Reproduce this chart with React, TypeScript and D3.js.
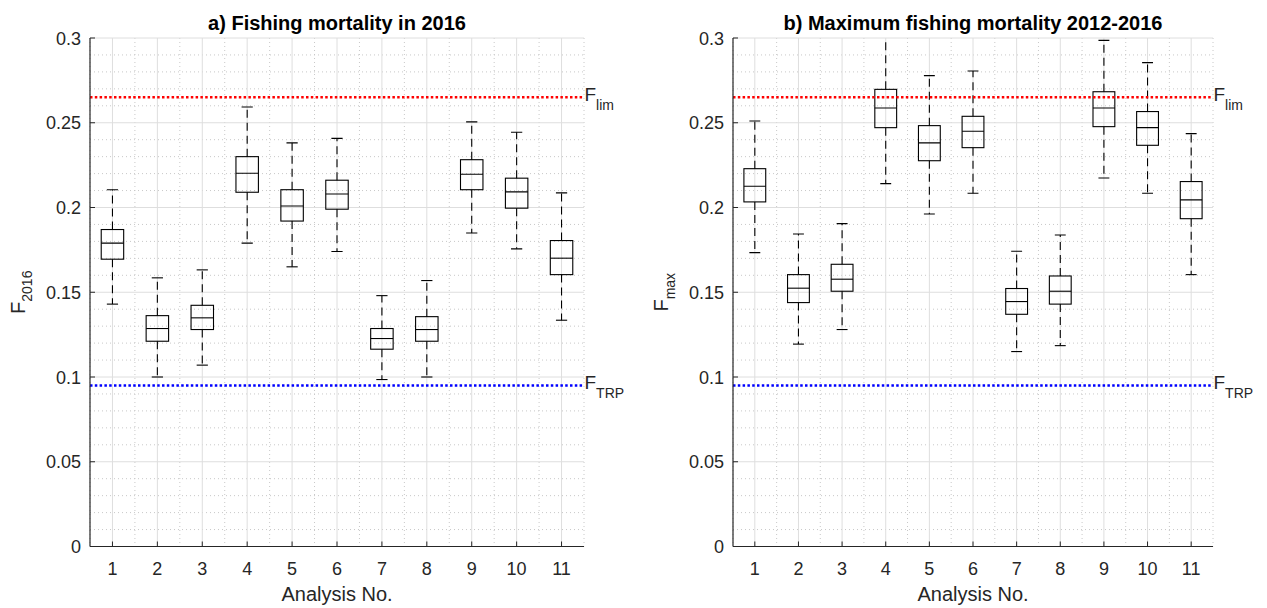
import React from "react";
import * as d3 from "d3";

const analyses = [1, 2, 3, 4, 5, 6, 7, 8, 9, 10, 11];
const xTickLabels = ["1", "2", "3", "4", "5", "6", "7", "8", "9", "10", "11"];
const yTicks = [0, 0.05, 0.1, 0.15, 0.2, 0.25, 0.3];
const yTickLabels = ["0", "0.05", "0.1", "0.15", "0.2", "0.25", "0.3"];

// Panel a) F2016
const aLow = [0.143, 0.1, 0.107, 0.179, 0.165, 0.174, 0.0985, 0.1, 0.185, 0.1756, 0.1335];
const aQ1 = [0.1695, 0.1211, 0.128, 0.209, 0.192, 0.199, 0.1164, 0.1211, 0.2105, 0.1996, 0.1604];
const aMed = [0.179, 0.1286, 0.1349, 0.2202, 0.2009, 0.208, 0.1227, 0.128, 0.2196, 0.2092, 0.1701];
const aQ3 = [0.187, 0.1362, 0.1423, 0.23, 0.2105, 0.2161, 0.1286, 0.1356, 0.2282, 0.2173, 0.1805];
const aHigh = [0.2105, 0.1585, 0.1632, 0.2593, 0.2381, 0.2408, 0.148, 0.1569, 0.2505, 0.2444, 0.2086];

// Panel b) Fmax
const bLow = [0.1734, 0.1194, 0.128, 0.2141, 0.1962, 0.2084, 0.115, 0.1185, 0.2174, 0.2084, 0.1604];
const bQ1 = [0.2033, 0.1439, 0.1506, 0.2471, 0.2276, 0.2353, 0.137, 0.143, 0.2477, 0.2367, 0.1934];
const bMed = [0.2125, 0.1524, 0.1577, 0.2587, 0.2381, 0.245, 0.1445, 0.1506, 0.2587, 0.2471, 0.2045];
const bQ3 = [0.2229, 0.1604, 0.1665, 0.2697, 0.2483, 0.2538, 0.1522, 0.1596, 0.2683, 0.2566, 0.2153];
const bHigh = [0.251, 0.1844, 0.1905, 0.31, 0.2778, 0.2805, 0.1742, 0.1838, 0.2986, 0.2855, 0.2436];

const fLim = 0.265;
const fTrp = 0.095;

const FONT = "'Liberation Sans', Arial, Helvetica, sans-serif";
const AXIS_COLOR = "#262626";

type PanelProps = {
  id: string;
  left: number;
  right: number;
  title: string;
  ySub: string;
  low: number[];
  q1: number[];
  med: number[];
  q3: number[];
  high: number[];
};

const TOP = 38;
const BOTTOM = 546.5;

function Panel(p: PanelProps) {
  const x = d3.scaleLinear().domain([0.5, 11.5]).range([p.left, p.right]);
  const y = d3.scaleLinear().domain([0, 0.3]).range([BOTTOM, TOP]);
  const minorY = d3.range(1, 30).map((i) => i / 100).filter((v) => Math.round(v * 100) % 5 !== 0);
  const minorX = d3.range(0, 12).map((i) => i + 0.5);
  const bw = 0.25; // half box width in units
  const cw = 0.125; // half cap width
  const tl = 5;
  const clipId = "clip-" + p.id;
  const cx = (p.left + p.right) / 2;
  return (
    <g>
      <defs>
        <clipPath id={clipId}>
          <rect x={p.left} y={TOP} width={p.right - p.left} height={BOTTOM - TOP} />
        </clipPath>
      </defs>
      {/* minor grid */}
      {minorY.map((v) => (
        <line key={"my" + v} x1={p.left} x2={p.right} y1={y(v)} y2={y(v)} stroke="#c8c8c8" strokeWidth={1} strokeDasharray="1,3" />
      ))}
      {minorX.map((v) => (
        <line key={"mx" + v} x1={x(v)} x2={x(v)} y1={TOP} y2={BOTTOM} stroke="#c8c8c8" strokeWidth={1} strokeDasharray="1,3" />
      ))}
      {/* major grid */}
      {yTicks.map((v) => (
        <line key={"gy" + v} x1={p.left} x2={p.right} y1={y(v)} y2={y(v)} stroke="#dedede" strokeWidth={1} />
      ))}
      {analyses.map((v) => (
        <line key={"gx" + v} x1={x(v)} x2={x(v)} y1={TOP} y2={BOTTOM} stroke="#dedede" strokeWidth={1} />
      ))}
      {/* boxes */}
      <g clipPath={`url(#${clipId})`} stroke="#000" fill="none" strokeWidth={1.1}>
        {analyses.map((a, i) => (
          <g key={"b" + a}>
            <line x1={x(a)} x2={x(a)} y1={y(p.q3[i])} y2={y(p.high[i])} strokeDasharray="8,5" />
            <line x1={x(a)} x2={x(a)} y1={y(p.q1[i])} y2={y(p.low[i])} strokeDasharray="8,5" />
            <line x1={x(a - cw)} x2={x(a + cw)} y1={y(p.high[i])} y2={y(p.high[i])} />
            <line x1={x(a - cw)} x2={x(a + cw)} y1={y(p.low[i])} y2={y(p.low[i])} />
            <rect x={x(a - bw)} y={y(p.q3[i])} width={x(a + bw) - x(a - bw)} height={y(p.q1[i]) - y(p.q3[i])} />
            <line x1={x(a - bw)} x2={x(a + bw)} y1={y(p.med[i])} y2={y(p.med[i])} />
          </g>
        ))}
      </g>
      {/* reference lines */}
      <line x1={p.left} x2={p.right} y1={y(fLim)} y2={y(fLim)} stroke="#ff0000" strokeWidth={2.5} strokeDasharray="2.5,2.3" />
      <line x1={p.left} x2={p.right} y1={y(fTrp)} y2={y(fTrp)} stroke="#0000ff" strokeWidth={2.5} strokeDasharray="2.5,2.3" />
      <text x={p.right + 0.5} y={y(fLim) + 3.5} fontFamily={FONT} fontSize={19} fill={AXIS_COLOR}>
        F<tspan fontSize={14} dy={9.5}>lim</tspan>
      </text>
      <text x={p.right + 0.5} y={y(fTrp) + 3.5} fontFamily={FONT} fontSize={19} fill={AXIS_COLOR}>
        F<tspan fontSize={14} dy={9.5}>TRP</tspan>
      </text>
      {/* axes */}
      <line x1={p.left} x2={p.left} y1={TOP} y2={BOTTOM} stroke={AXIS_COLOR} strokeWidth={1.2} />
      <line x1={p.left} x2={p.right} y1={BOTTOM} y2={BOTTOM} stroke={AXIS_COLOR} strokeWidth={1.2} />
      {yTicks.map((v, i) => (
        <g key={"yt" + v}>
          <line x1={p.left} x2={p.left + tl} y1={y(v)} y2={y(v)} stroke={AXIS_COLOR} strokeWidth={1} />
          <text x={p.left - 9} y={y(v) + 6.5} textAnchor="end" fontFamily={FONT} fontSize={18} fill={AXIS_COLOR}>
            {yTickLabels[i]}
          </text>
        </g>
      ))}
      {analyses.map((a, i) => (
        <g key={"xt" + a}>
          <line x1={x(a)} x2={x(a)} y1={BOTTOM} y2={BOTTOM - tl} stroke={AXIS_COLOR} strokeWidth={1} />
          <text x={x(a)} y={575} textAnchor="middle" fontFamily={FONT} fontSize={18} fill={AXIS_COLOR}>
            {xTickLabels[i]}
          </text>
        </g>
      ))}
      <text x={cx} y={601} textAnchor="middle" fontFamily={FONT} fontSize={20} fill={AXIS_COLOR}>
        Analysis No.
      </text>
      <text
        transform={`translate(${p.left - 65},${(TOP + BOTTOM) / 2}) rotate(-90)`}
        textAnchor="middle"
        fontFamily={FONT}
        fontSize={20}
        fill={AXIS_COLOR}
      >
        F<tspan fontSize={14} dy={7}>{p.ySub}</tspan>
      </text>
      <text x={cx} y={30} textAnchor="middle" fontFamily={FONT} fontSize={20} fontWeight="bold" fill="#000">
        {p.title}
      </text>
    </g>
  );
}

export default function App() {
  return (
    <svg width={1267} height={608} style={{ position: "absolute", left: 0, top: 0, background: "#fff" }}>
      <rect x={0} y={0} width={1267} height={608} fill="#fff" />
      <Panel id="a" left={90} right={584} title="a) Fishing mortality in 2016" ySub="2016" low={aLow} q1={aQ1} med={aMed} q3={aQ3} high={aHigh} />
      <Panel id="b" left={733} right={1213} title="b) Maximum fishing mortality 2012-2016" ySub="max" low={bLow} q1={bQ1} med={bMed} q3={bQ3} high={bHigh} />
    </svg>
  );
}
